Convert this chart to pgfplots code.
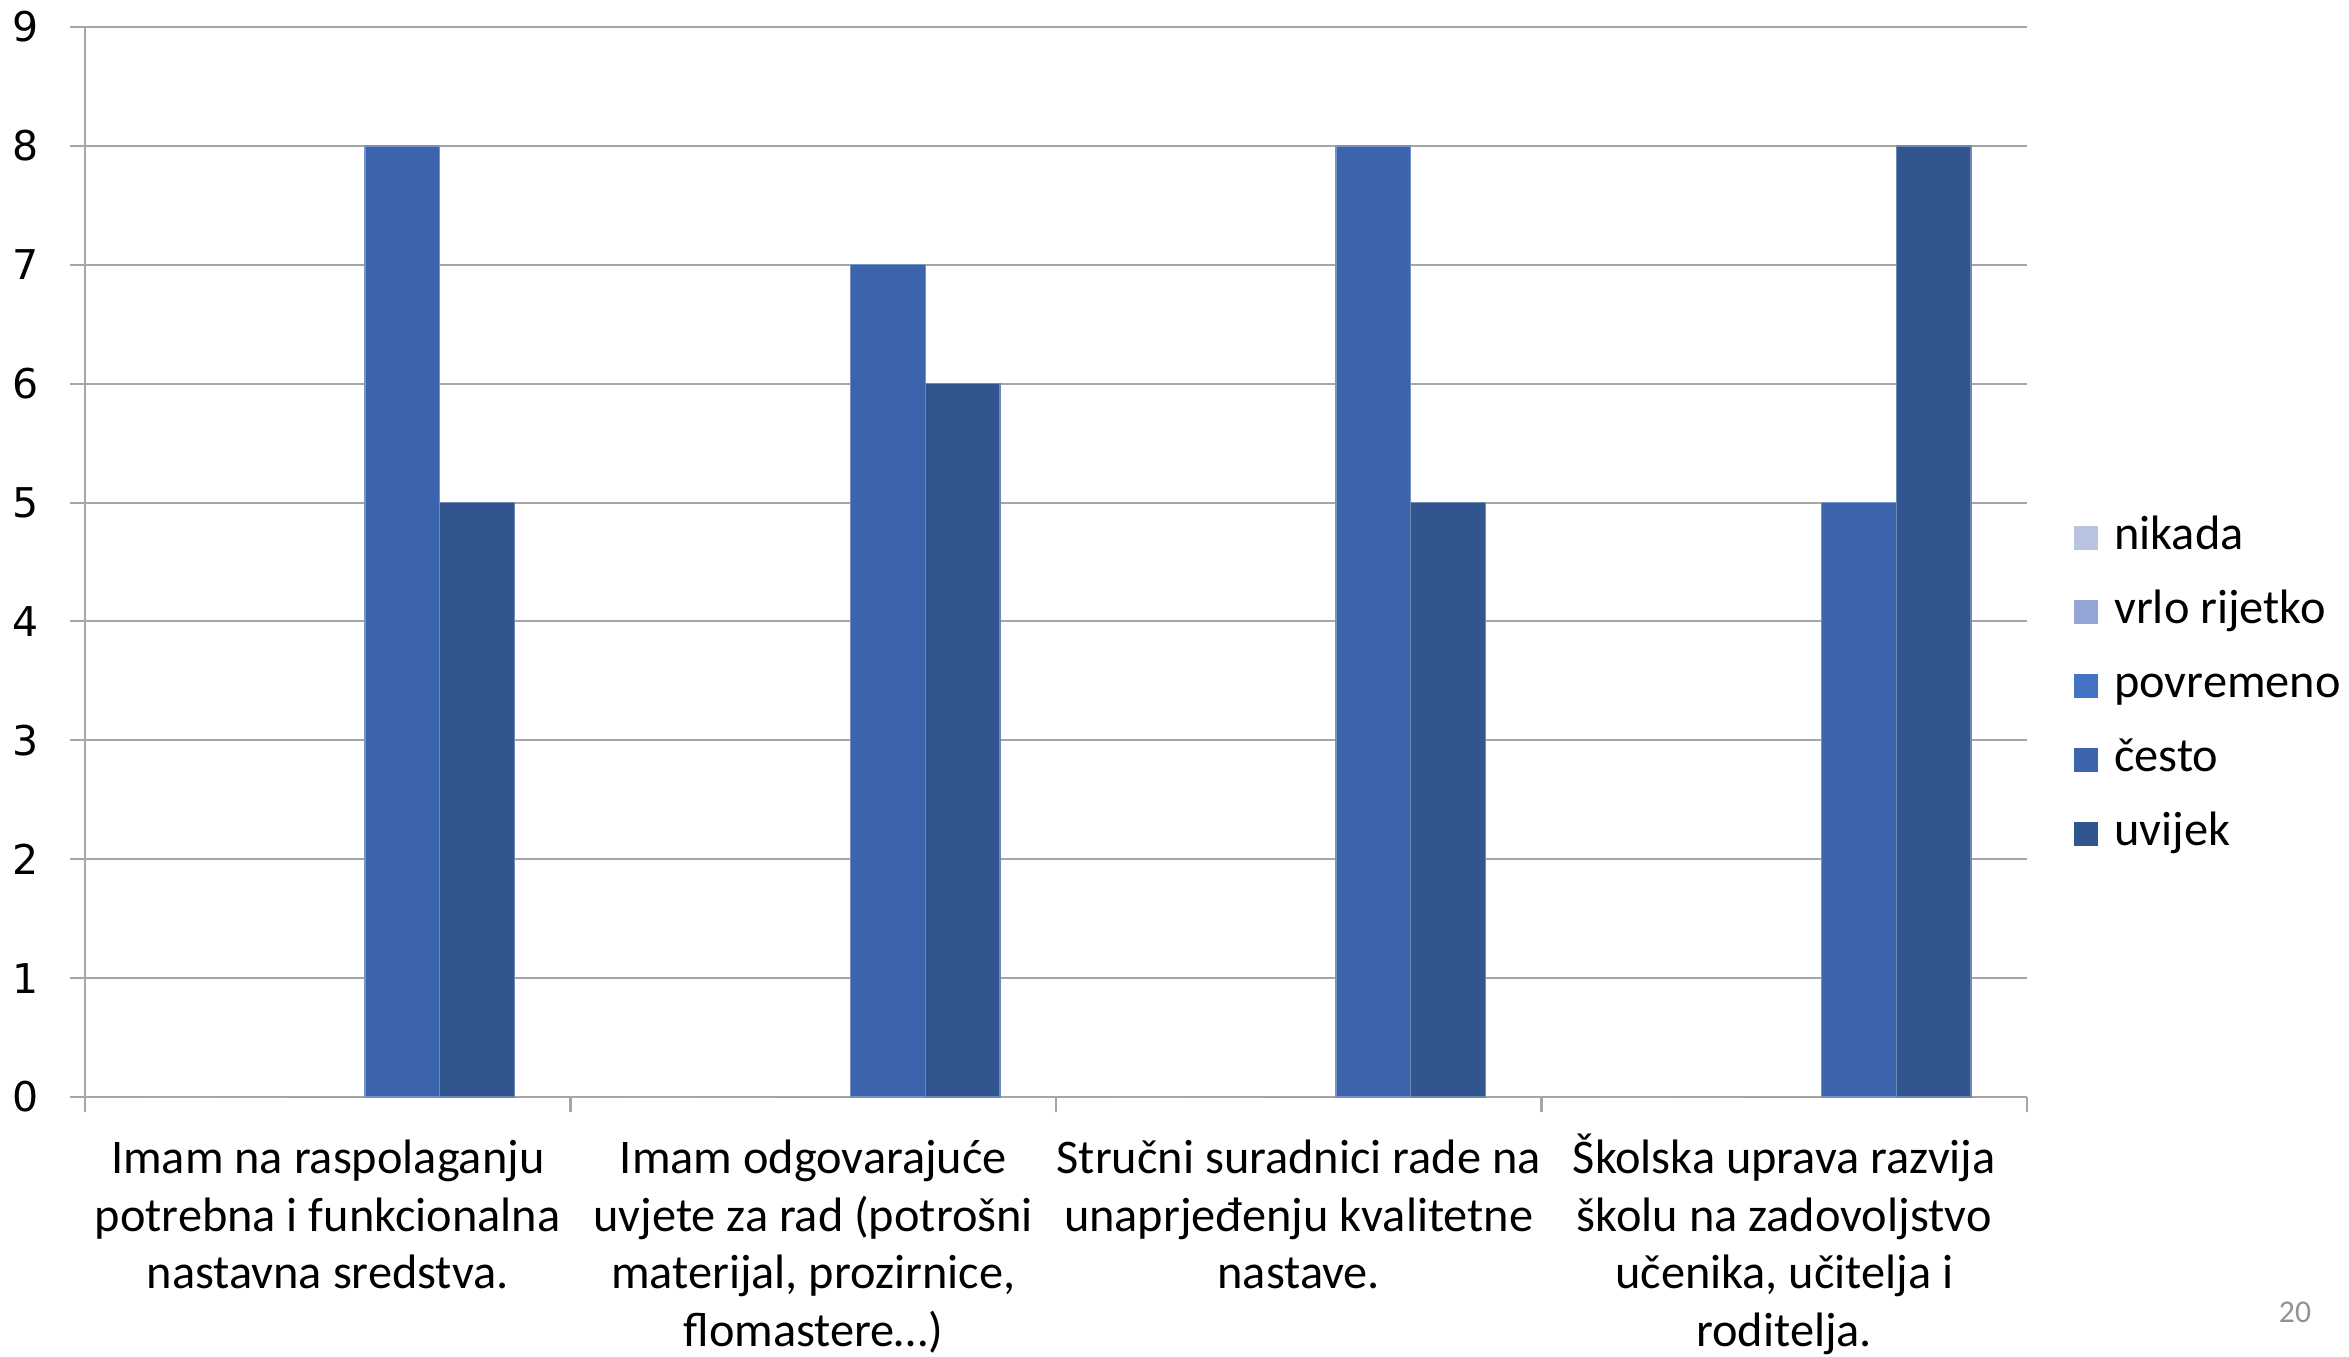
\documentclass[border=0pt]{standalone}
\usepackage{fontspec}
\setmainfont{Carlito}
\newfontfamily\tickfont{DejaVu Sans}
\usepackage{pgfplots}
\pgfplotsset{compat=1.18}
\definecolor{cNik}{HTML}{B9C3E2}
\definecolor{cVrl}{HTML}{93A6D5}
\definecolor{cPov}{HTML}{4472C4}
\definecolor{cCes}{HTML}{3C64AD}
\definecolor{cUvi}{HTML}{31558F}
\definecolor{gridc}{HTML}{A6A6A6}
\newcommand{\fs}{\rule{0pt}{12pt}}
\begin{document}
\begin{tikzpicture}
\useasboundingbox (0,0) rectangle (704.7pt,407.1pt);
\begin{axis}[
  at={(25.5pt,78pt)}, anchor=south west,
  scale only axis, width=582.6pt, height=321pt,
  xmin=-0.5, xmax=3.5, ymin=0, ymax=9,
  ytick={0,1,...,9},
  xtick={0,1,2,3},
  xticklabels={
    {\fs Imam na raspolaganju\\potrebna i funkcionalna\\nastavna sredstva.},
    {\fs Imam odgovarajuće\\uvjete za rad (potrošni\\materijal, prozirnice,\\flomastere…)},
    {\fs Stručni suradnici rade na\\unaprjeđenju kvalitetne\\nastave.},
    {\fs Školska uprava razvija\\školu na zadovoljstvo\\učenika, učitelja i\\roditelja.}},
  minor xtick={-0.5,0.5,1.5,2.5,3.5},
  major x tick style={draw=none},
  minor x tick style={draw=gridc, line width=0.75pt},
  ytick style={draw=gridc, line width=0.6pt},
  major tick length=4.5pt, minor tick length=4.5pt,
  tick align=outside,
  axis x line*=bottom, axis y line*=left,
  axis line style={draw=gridc, line width=0.8pt, -},
  ymajorgrids, major grid style={draw=gridc, line width=0.6pt},
  /pgf/number format/assume math mode=true,
  xticklabel style={font=\fontsize{14.5}{17.3}\selectfont, align=center, anchor=north, inner sep=0pt, yshift=-6.2pt},
  yticklabel style={font=\tickfont\fontsize{12.3}{14}\selectfont, anchor=east, xshift=-6pt},
  ybar, bar width=0.153846,
  legend style={draw=none, fill=none, at={(1.0185,0.384)}, anchor=west,
    font=\fontsize{14.5}{17.7}\selectfont,
    nodes={inner sep=0pt, text height=10pt, text depth=3pt},
    row sep=9.2pt,
    /tikz/every odd column/.append style={column sep=5pt}},
  legend cell align=left,
  legend image code/.code={\fill[#1,draw=none] (0pt,-3.6pt) rectangle (7.2pt,3.6pt);},
]
\addplot[fill=cNik, draw=none, bar shift=-0.307692] coordinates {(0,0) (1,0) (2,0) (3,0)};
\addplot[fill=cVrl, draw=none, bar shift=-0.153846] coordinates {(0,0) (1,0) (2,0) (3,0)};
\addplot[fill=cPov, draw=none, bar shift=0] coordinates {(0,0) (1,0) (2,0) (3,0)};
\addplot[fill=cCes, draw=cCes!70!white, line width=0.4pt, bar shift=0.153846] coordinates {(0,8) (1,7) (2,8) (3,5)};
\addplot[fill=cUvi, draw=cUvi!70!white, line width=0.4pt, bar shift=0.307692] coordinates {(0,5) (1,6) (2,5) (3,8)};
\legend{nikada, vrlo rijetko, povremeno, često, uvijek}
\end{axis}
\node[text=gray!85!white, font=\fontsize{9.5}{11}\selectfont] at (688.5pt,13.5pt) {20};
\end{tikzpicture}
\end{document}
